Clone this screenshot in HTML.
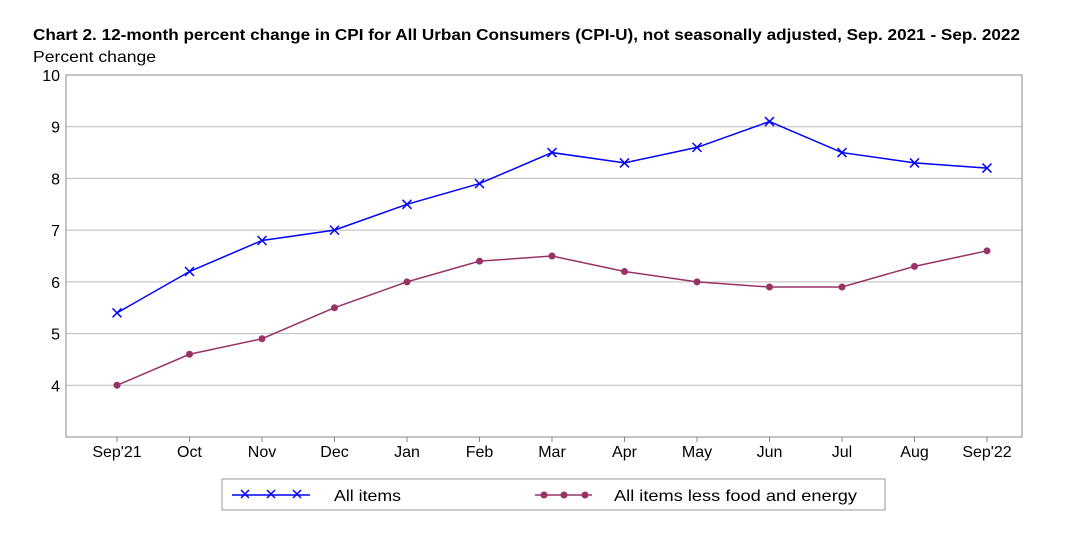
<!DOCTYPE html>
<html><head><meta charset="utf-8"><style>
body{margin:0;background:#fff;font-family:"Liberation Sans",sans-serif;}
svg text{font-family:"Liberation Sans",sans-serif;}
</style></head><body>
<svg id="chart" width="1065" height="529" xmlns="http://www.w3.org/2000/svg">
<text x="33" y="40" font-size="16" font-weight="bold" fill="#000" textLength="987" lengthAdjust="spacingAndGlyphs">Chart 2. 12-month percent change in CPI for All Urban Consumers (CPI-U), not seasonally adjusted, Sep. 2021 - Sep. 2022</text>
<text x="33" y="62" font-size="16" fill="#000" textLength="123" lengthAdjust="spacingAndGlyphs">Percent change</text>
<g id="grid"></g><g id="axes"></g><g id="series"></g>
<g>
<rect x="222" y="479" width="663" height="31" fill="#fff" stroke="#999"/>
<g>
<line x1="232" y1="495" x2="310" y2="495" stroke="#0000ff" stroke-width="1.5"/>
<path d="M241 490l8 8M249 490l-8 8M267 490l8 8M275 490l-8 8M293 490l8 8M301 490l-8 8" stroke="#0000ff" stroke-width="1.5"/>
<text x="334" y="501" font-size="16" textLength="67" lengthAdjust="spacingAndGlyphs">All items</text></g>
<g>
<line x1="535" y1="495" x2="592" y2="495" stroke="#993366" stroke-width="1.5"/>
<circle cx="544" cy="495" r="3.5" fill="#993366"/><circle cx="564" cy="495" r="3.5" fill="#993366"/><circle cx="585" cy="495" r="3.5" fill="#993366"/>
<text x="614" y="501" font-size="16" textLength="243" lengthAdjust="spacingAndGlyphs">All items less food and energy</text></g>
</g>
</svg>
<script>
const categories=["Sep'21","Oct","Nov","Dec","Jan","Feb","Mar","Apr","May","Jun","Jul","Aug","Sep'22"];
const allItems=[5.4,6.2,6.8,7.0,7.5,7.9,8.5,8.3,8.6,9.1,8.5,8.3,8.2];
const coreItems=[4.0,4.6,4.9,5.5,6.0,6.4,6.5,6.2,6.0,5.9,5.9,6.3,6.6];
const yTicks=[4,5,6,7,8,9,10];
const NS="http://www.w3.org/2000/svg";
const L=66,R=1022,T=75,B=437,yMin=3,yMax=10;
const x=i=>117+i*(987-117)/(categories.length-1);
const y=v=>B-(v-yMin)/(yMax-yMin)*(B-T);
function mk(tag,a,parent){const e=document.createElementNS(NS,tag);for(const k in a)e.setAttribute(k,a[k]);document.getElementById(parent).appendChild(e);return e;}
yTicks.forEach(v=>{
 if(v<yMax){const g=mk('line',{x1:L,x2:R,y1:y(v),y2:y(v),stroke:'#bbb','stroke-width':1},'grid');
 
 }
 const t=mk('text',{x:L-6,y:y(v)+6,'font-size':16,'text-anchor':'end'},'axes');t.textContent=v;
 
 
});
const frame=mk('rect',{x:L,y:T,width:R-L,height:B-T,fill:'none',stroke:'#888'},'axes');


categories.forEach((c,i)=>{
 mk('line',{x1:x(i),x2:x(i),y1:B,y2:B+5,stroke:'#888'},'axes');
 const t=mk('text',{x:x(i),y:B+20,'font-size':16,'text-anchor':'middle'},'axes');t.textContent=c;
 
 
});
const p1=mk('polyline',{points:allItems.map((v,i)=>x(i)+','+y(v)).join(' '),fill:'none',stroke:'#0000ff','stroke-width':1.5},'series');


allItems.forEach((v,i)=>{const m=mk('path',{d:`M${x(i)-4.5} ${y(v)-4.5}l9 9M${x(i)+4.5} ${y(v)-4.5}l-9 9`,stroke:'#0000ff','stroke-width':1.5},'series');
 
 });
const p2=mk('polyline',{points:coreItems.map((v,i)=>x(i)+','+y(v)).join(' '),fill:'none',stroke:'#993366','stroke-width':1.5},'series');


coreItems.forEach((v,i)=>{const m=mk('circle',{cx:x(i),cy:y(v),r:3.5,fill:'#993366'},'series');
 
 });
</script>
</body></html>
